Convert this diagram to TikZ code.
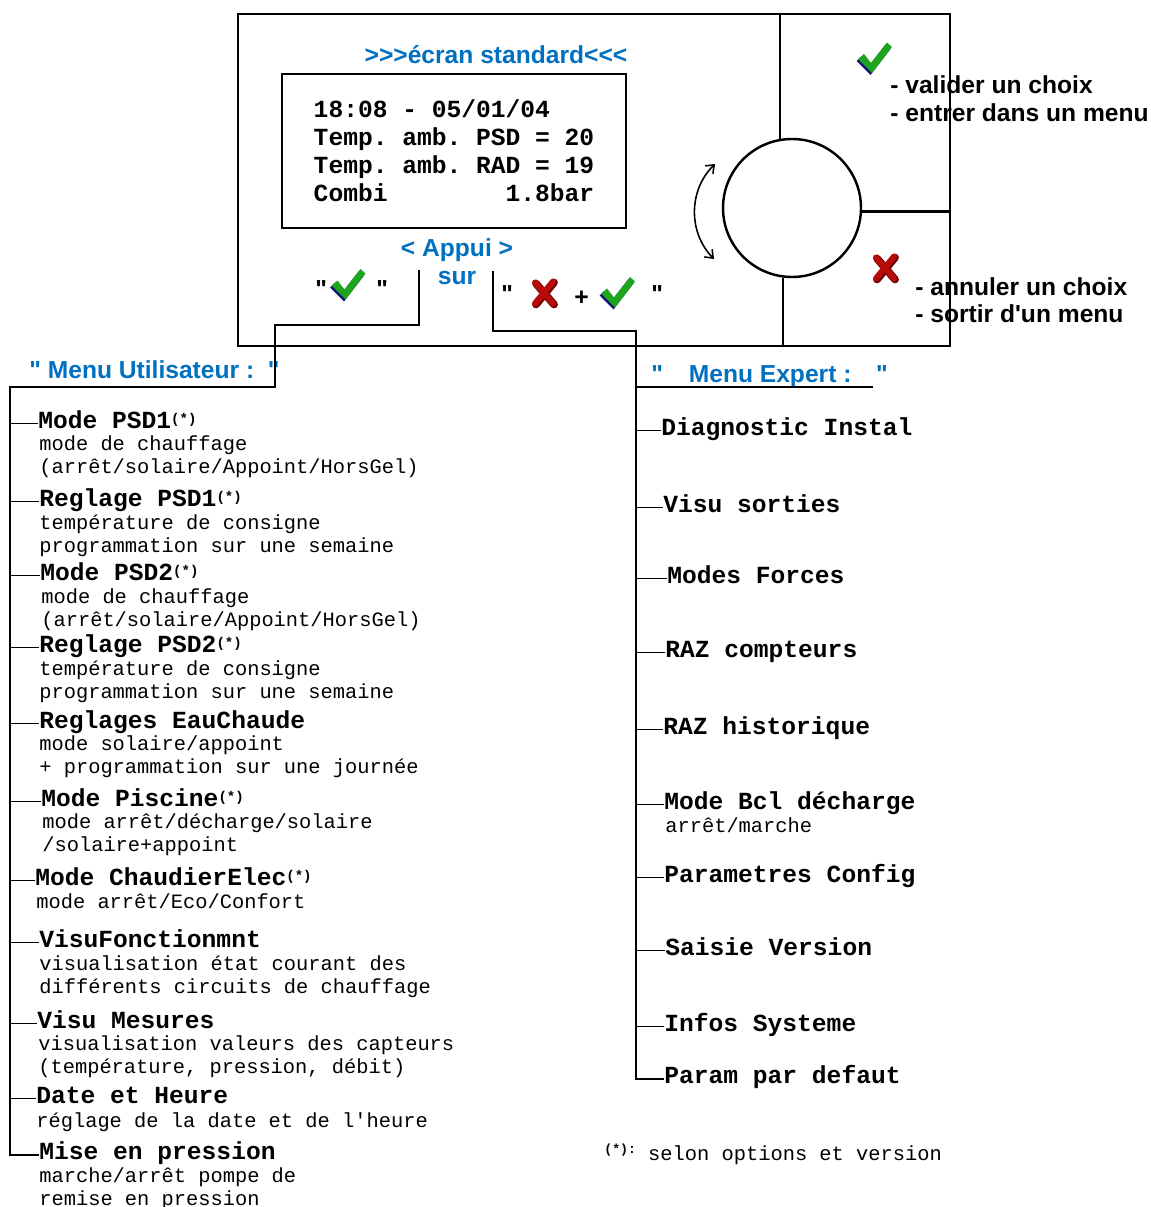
\documentclass[tikz,border=0pt]{standalone}
\usepackage{fontspec}
\newfontfamily\panelsans{Liberation Sans}
\newfontfamily\panelmono{Liberation Mono}
\usetikzlibrary{arrows.meta}
\definecolor{ink}{RGB}{0,0,0}
\definecolor{menublue}{RGB}{0,112,192}
\definecolor{okgreen}{RGB}{30,165,30}
\definecolor{okshade}{RGB}{20,20,120}
\definecolor{nored}{RGB}{185,10,10}
\definecolor{noshade}{RGB}{110,0,0}
\newcommand{\optmark}{\raisebox{2.7pt}{\fontsize{8}{9}\selectfont(*)}}
\frenchspacing

\begin{document}
\begin{tikzpicture}[
  x=0.2mm, y=-0.2mm, font=\panelsans,
  frame/.style={draw=ink, line width=1.4pt, inner sep=0pt},
  link/.style={draw=ink, line width=1.1pt},
  stub/.style={draw=ink, line width=1pt},
  rot/.style={line width=0.9pt, {Straight Barb[length=1.4mm,width=2.2mm]}-{Straight Barb[length=1.4mm,width=2.2mm]}},
  lbl/.style={font=\panelsans\bfseries\fontsize{14}{16}\selectfont, inner sep=0pt},
  ttl/.style={lbl, text=menublue},
  side/.style={lbl, anchor=base west, text width=62mm, align=left, font=\panelsans\bfseries\fontsize{14}{15.9}\selectfont,
               execute at begin node={\spaceskip=\fontdimen2\font\relax}},
  hd/.style={font=\panelmono\bfseries\fontsize{14}{16}\selectfont, inner sep=0pt, anchor=base west, text height=5pt, text depth=0pt},
  dsc/.style={font=\panelmono\fontsize{11.6}{13.2}\selectfont, inner sep=0pt, anchor=base west, text width=100mm, align=left,
              execute at begin node={\spaceskip=\fontdimen2\font\relax}},
  chk/.pic={
    \fill[okshade] (-18.5,3) -- (-12.5,-2) -- (-5.5,7) -- (10.5,-13.5) -- (15.5,-9) -- (-4.5,17) -- cycle;
    \fill[okgreen] (-17,1) -- (-11,-4) -- (-4,5) -- (12,-15.5) -- (17,-11) -- (-3,15) -- cycle;
  },
  crs/.pic={
    \draw[line width=4.4pt, line cap=round, draw=noshade] (-8,-9) -- (10,12) (10,-10) -- (-8,12);
    \draw[line width=3.4pt, line cap=round, draw=nored] (-9,-10) -- (9,11) (9,-11) -- (-9,11);
  },
]
\useasboundingbox (0,0) rectangle (1150,1207);

% ------------------------------------------------------------------ control panel
\node[frame, minimum width=142.4mm, minimum height=66.4mm] (panel) at (594,180) {};
\node[ttl, anchor=base] (title) at (496,64) {>>>écran standard<<<};
\node[frame, line width=1.1pt, minimum width=68.8mm, minimum height=30.8mm, align=left,
      font=\panelmono\bfseries\fontsize{14}{15.9}\selectfont] (lcd) at (454,151)
  {18:08 - 05/01/04\\ Temp. amb. PSD = 20\\ Temp. amb. RAD = 19\\ Combi\hspace{4.8em}1.8bar};

\node[ttl, anchor=base] (appui) at (457,257) {< Appui >};
\node[ttl, anchor=base] (sur) at (457,285) {sur};

% key combinations
\node[lbl, anchor=base west] (q1) at (315,298) {"};
\pic (okL) at (348.5,284.5) {chk};
\node[lbl, anchor=base west] (q2) at (376,298) {"};
\node[lbl, anchor=base west] (q3) at (501,303) {"};
\pic (noL) at (544,292.5) {crs};
\node[lbl, anchor=base] (plus) at (581.5,305) {+};
\pic (okM) at (618,292.5) {chk};
\node[lbl, anchor=base west] (q4) at (651,303) {"};

% knob
\node[draw=ink, line width=1.4pt, circle, minimum size=27.6mm, inner sep=0pt] (knob) at (792,208) {};
\draw[link] (knob.100) -- (knob.100 |- panel.north);
\draw[link, line width=1.4pt] (knob.-3) -- (knob.-3 -| panel.east);
\draw[link] (knob.263) -- (knob.263 |- panel.south);
\coordinate (rotT) at (715,164);
\coordinate (rotB) at (714,259);
\draw[rot] (rotT) to[bend right=45] (rotB);

\pic (okR) at (875,58) {chk};
\node[side] (okTxt) at (890,94) {- valider un choix\\- entrer dans un menu};
\pic (noR) at (885,267.5) {crs};
\node[side] (noTxt) at (915,295) {- annuler un choix\\- sortir d'un menu};

% ------------------------------------------------------------------ menu heads
\node[ttl, anchor=base west] (uHead) at (29,378) {" Menu Utilisateur :\ \ "};
\node[ttl, anchor=base west] (eHead) at (651,382) {"\hspace{1.05em}Menu Expert :\hspace{1em}"};

% ------------------------------------------------------------------ user menu
\node[hd] (u1) at (38,428) {Mode PSD1\optmark};
\node[dsc] (u1d) at (39,450) {mode de chauffage\\(arrêt/solaire/Appoint/HorsGel)};
\node[hd] (u2) at (39,506) {Reglage PSD1\optmark};
\node[dsc] (u2d) at (39,529) {température de consigne\\programmation sur une semaine};
\node[hd] (u3) at (40,580) {Mode PSD2\optmark};
\node[dsc] (u3d) at (41,603) {mode de chauffage\\(arrêt/solaire/Appoint/HorsGel)};
\node[hd] (u4) at (39,652) {Reglage PSD2\optmark};
\node[dsc] (u4d) at (39,675) {température de consigne\\programmation sur une semaine};
\node[hd] (u5) at (39,728) {Reglages EauChaude};
\node[dsc] (u5d) at (39,750) {mode solaire/appoint\\+ programmation sur une journée};
\node[hd] (u6) at (41,806) {Mode Piscine\optmark};
\node[dsc] (u6d) at (42,828) {mode arrêt/décharge/solaire\\/solaire+appoint};
\node[hd] (u7) at (35,885) {Mode ChaudierElec\optmark};
\node[dsc] (u7d) at (36,908) {mode arrêt/Eco/Confort};
\node[hd] (u8) at (39,947) {VisuFonctionmnt};
\node[dsc] (u8d) at (39,970) {visualisation état courant des\\différents circuits de chauffage};
\node[hd] (u9) at (37,1028) {Visu Mesures};
\node[dsc] (u9d) at (38,1050) {visualisation valeurs des capteurs\\(température, pression, débit)};
\node[hd] (u10) at (36,1103) {Date et Heure};
\node[dsc] (u10d) at (36,1127) {réglage de la date et de l'heure};
\node[hd] (u11) at (39,1159) {Mise en pression};
\node[dsc] (u11d) at (39,1182) {marche/arrêt pompe de\\remise en pression};

% ------------------------------------------------------------------ expert menu
\node[hd] (e1) at (661,435) {Diagnostic Instal};
\node[hd] (e2) at (663,512) {Visu sorties};
\node[hd] (e3) at (667,583) {Modes Forces};
\node[hd] (e4) at (665,657) {RAZ compteurs};
\node[hd] (e5) at (663,734) {RAZ historique};
\node[hd] (e6) at (664,809) {Mode Bcl décharge};
\node[dsc] (e6d) at (665,832) {arrêt/marche};
\node[hd] (e7) at (664,882) {Parametres Config};
\node[hd] (e8) at (665,955) {Saisie Version};
\node[hd] (e9) at (664,1031) {Infos Systeme};
\node[hd] (e10) at (664,1083) {Param par defaut};

\node[dsc] (note) at (604,1160) {\raisebox{3.5pt}{\fontsize{7.5}{9}\selectfont\bfseries(*):} selon options et version};

% ------------------------------------------------------------------ tree lines
\coordinate (kL) at (419,270);
\coordinate (kR) at (493,271);
\coordinate (uTop) at (10,387);
\coordinate (eTop) at (636,387);
\draw[link] (kL) -- ++(0,55) -- ++(-144,0) |- (uTop) |- (u11.west);
\draw[link] (kR) -- ++(0,60) -| (eTop) |- (e10.west);
\draw[link] (eTop) -- ++(237,0);
\foreach \n in {1,...,10} \draw[stub] (uTop |- u\n.west) -- (u\n.west);
\foreach \n in {1,...,9} \draw[stub] (eTop |- e\n.west) -- (e\n.west);
\end{tikzpicture}
\end{document}
